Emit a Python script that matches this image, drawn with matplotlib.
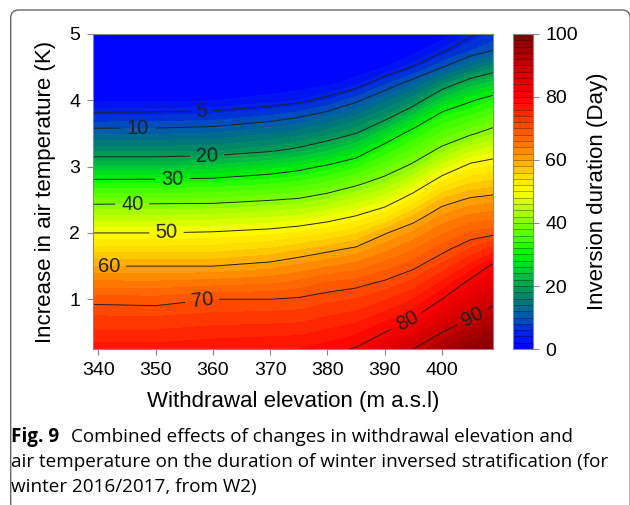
import matplotlib
matplotlib.use('Agg')
import matplotlib.pyplot as plt
import numpy as np
from matplotlib.colors import LinearSegmentedColormap
from matplotlib.patches import FancyBboxPatch
from matplotlib.transforms import IdentityTransform

# Data
elevation = [339, 350, 360, 370, 375, 380, 385, 390, 395, 400, 405, 409]
temp_increase = [0.25, 0.5, 0.75, 1.0, 1.25, 1.5, 1.75, 2.0, 2.25, 2.5,
                 2.75, 3.0, 3.25, 3.5, 3.75, 4.0, 4.25, 4.5, 4.75, 5.0]
# inversion duration (days), rows = temp_increase, cols = elevation
duration = [
    [77.0, 77.0, 77.5, 78.0, 78.0, 79.0, 80.3, 85.6, 90.0, 94.0, 98.0, 100.0],
    [74.5, 74.4, 75.0, 75.3, 75.5, 76.5, 77.6, 80.0, 84.4, 90.0, 93.7, 96.2],
    [72.0, 71.9, 72.5, 72.7, 72.9, 73.9, 74.8, 76.8, 79.3, 85.0, 89.5, 92.3],
    [69.1, 68.8, 70.0, 70.0, 70.4, 71.4, 72.1, 73.7, 76.0, 80.0, 85.3, 88.5],
    [64.5, 64.4, 65.0, 65.6, 66.6, 68.1, 69.0, 70.5, 72.7, 76.3, 81.0, 84.6],
    [60.0, 60.0, 60.0, 61.2, 62.5, 63.8, 64.9, 67.0, 69.3, 72.6, 76.7, 80.8],
    [55.0, 55.0, 55.2, 56.4, 57.8, 59.3, 60.8, 63.4, 65.9, 69.1, 72.4, 75.0],
    [50.0, 50.0, 50.4, 51.4, 52.4, 53.8, 55.7, 59.7, 62.5, 65.7, 68.3, 69.2],
    [44.3, 44.4, 44.7, 45.7, 46.6, 48.1, 50.2, 53.3, 58.3, 62.4, 64.5, 65.2],
    [38.4, 38.6, 38.7, 39.8, 40.5, 42.3, 44.7, 47.4, 52.4, 58.4, 60.6, 61.3],
    [31.8, 31.9, 32.3, 33.7, 34.7, 36.5, 39.1, 42.1, 46.7, 52.6, 56.0, 56.9],
    [24.0, 24.0, 24.7, 26.9, 28.5, 30.7, 33.3, 37.2, 41.1, 46.8, 51.2, 52.4],
    [17.2, 17.2, 17.6, 19.3, 20.9, 23.5, 26.9, 32.5, 36.5, 41.1, 45.4, 47.3],
    [11.7, 11.7, 12.2, 13.9, 15.2, 17.2, 20.0, 25.9, 32.1, 36.4, 39.4, 41.8],
    [6.3, 6.5, 6.9, 8.5, 9.8, 11.9, 14.7, 18.4, 25.0, 32.0, 34.5, 36.8],
    [1.5, 1.6, 1.8, 3.1, 4.1, 6.2, 9.3, 13.3, 17.3, 25.2, 29.5, 32.1],
    [0.0, 0.0, 0.0, 0.0, 0.5, 1.4, 3.3, 7.6, 11.8, 17.1, 22.7, 25.3],
    [0.0, 0.0, 0.0, 0.0, 0.0, 0.0, 0.2, 1.9, 5.3, 9.8, 14.2, 17.4],
    [0.0, 0.0, 0.0, 0.0, 0.0, 0.0, 0.0, 0.0, 1.0, 4.4, 7.9, 10.1],
    [0.0, 0.0, 0.0, 0.0, 0.0, 0.0, 0.0, 0.0, 0.0, 0.5, 4.5, 6.4],
]
line_levels = [5, 10, 20, 30, 40, 50, 60, 70, 80, 90]
label_pos = [(358.1, 3.81), (346.9, 3.57), (359.0, 3.13), (352.9, 2.83),
             (345.9, 2.43), (351.9, 2.0), (341.8, 1.48), (358.1, 1.0),
             (394.2, 0.62), (405.3, 0.75)]

plt.rcParams['font.family'] = ['Liberation Sans', 'DejaVu Sans']

cmap = LinearSegmentedColormap.from_list('inv', [
    (0.00, '#0000ff'), (0.05, '#0022e6'), (0.10, '#0055b4'), (0.15, '#007878'),
    (0.20, '#00a050'), (0.25, '#00cd32'), (0.30, '#00f500'), (0.35, '#46ff00'),
    (0.40, '#82ff00'), (0.45, '#beff00'), (0.50, '#ffff00'), (0.55, '#ffdc00'),
    (0.60, '#ffaa00'), (0.65, '#ff7800'), (0.70, '#ff5000'), (0.75, '#ff2800'),
    (0.80, '#ff0000'), (0.85, '#e60000'), (0.90, '#c80000'), (0.95, '#a50000'),
    (1.00, '#800000')])

fig = plt.figure(figsize=(6.3, 5.05), dpi=100)
ax = fig.add_axes([0.1471, 0.3089, 0.6360, 0.6238])
cax = fig.add_axes([0.8138, 0.3089, 0.0317, 0.6238])

X, Y = np.meshgrid(elevation, temp_increase)
Z = np.array(duration)
levels = np.arange(0, 101, 2)
cf = ax.contourf(X, Y, Z, levels=levels, cmap=cmap, vmin=0, vmax=100)
cs = ax.contour(X, Y, Z, levels=line_levels, colors='#222222', linewidths=0.7)
ax.clabel(cs, fmt='%d', fontsize=14.5, inline=True, inline_spacing=6,
          manual=label_pos)

ax.set_xlim(339, 409)
ax.set_ylim(0.25, 5)
ax.set_xticks([340, 350, 360, 370, 380, 390, 400])
ax.set_yticks([1, 2, 3, 4, 5])
for s in ax.spines.values():
    s.set_color('#888888')
    s.set_linewidth(0.8)
ax.tick_params(colors='#888888', labelcolor='black', labelsize=14,
               length=4, width=0.8, pad=5)

cbar = fig.colorbar(cf, cax=cax, ticks=[0, 20, 40, 60, 80, 100])
cbar.outline.set_edgecolor('#888888')
cbar.outline.set_linewidth(0.8)
cax.tick_params(colors='#888888', labelcolor='black', labelsize=14,
                length=4, width=0.8, pad=5)
cax.hlines(levels[1:-1], 0, 1, transform=cax.get_yaxis_transform(),
           colors='black', linewidths=0.5, alpha=0.45)

fig.text(293 / 630, 1 - 406.7 / 505, 'Withdrawal elevation (m a.s.l)',
         ha='center', va='baseline', fontsize=16)
fig.text(46 / 630, 1 - 191.5 / 505, 'Increase in air temperature (K)',
         ha='center', va='center', rotation=90, fontsize=16)
fig.text(598 / 630, 1 - 191.5 / 505, 'Inversion duration (Day)',
         ha='center', va='center', rotation=90, fontsize=16)

# caption
cap_font = ['Open Sans', 'DejaVu Sans']
fig.text(10.7 / 630, 1 - 441.7 / 505, 'Fig. 9', family=cap_font,
         weight='bold', fontsize=13.6, va='baseline')
fig.text(70.7 / 630, 1 - 441.7 / 505,
         'Combined effects of changes in withdrawal elevation and',
         family=cap_font, fontsize=13.6, va='baseline')
fig.text(10.7 / 630, 1 - 466.7 / 505,
         'air temperature on the duration of winter inversed stratification (for',
         family=cap_font, fontsize=13.6, va='baseline')
fig.text(10.7 / 630, 1 - 491.7 / 505, 'winter 2016/2017, from W2)',
         family=cap_font, fontsize=13.6, va='baseline')

box = FancyBboxPatch((10.7, -6), 619.5, 501, boxstyle='round,pad=0,rounding_size=8',
                     transform=IdentityTransform(), facecolor='none',
                     edgecolor='#666666', linewidth=1.0, clip_on=False)
fig.patches.append(box)

fig.savefig('out.png', dpi=100)
